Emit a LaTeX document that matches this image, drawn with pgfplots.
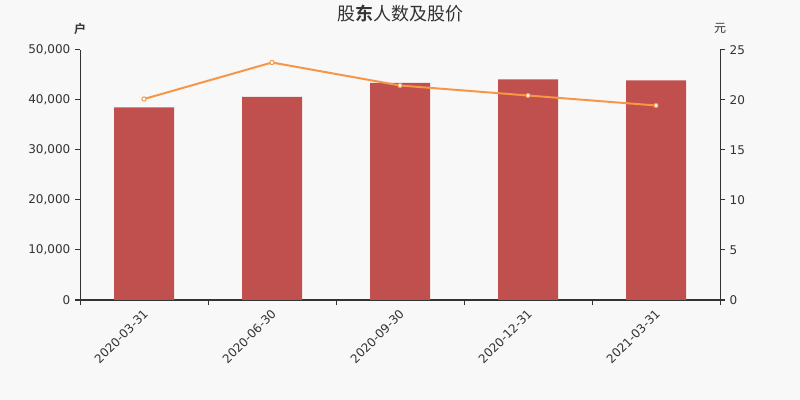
\documentclass[border=0pt]{standalone}
\usepackage{pgfplots}
\pgfplotsset{compat=1.18}
\usepackage{fontspec}
\setmainfont{DejaVu Sans}
\newfontfamily\cjk{Noto Sans CJK SC}[BoldFont={Noto Sans CJK SC Bold}]
\definecolor{bg}{HTML}{F8F8F8}
\definecolor{txt}{HTML}{333333}
\definecolor{barc}{HTML}{C0504D}
\definecolor{linec}{HTML}{F79646}
\begin{document}
\begin{tikzpicture}
\fill[bg] (0pt,0pt) rectangle (600pt,300pt);
\useasboundingbox (0pt,0pt) rectangle (600pt,300pt);
\node[font=\cjk\fontsize{13.5}{15}\selectfont, text=txt] at (300pt,289.5pt) {股{\bfseries 东}人数及股价};
\node[font=\cjk\bfseries\fontsize{9}{10}\selectfont, text=txt] at (60pt,278.5pt) {户};
\node[font=\cjk\fontsize{9}{10}\selectfont, text=txt] at (540pt,278.5pt) {元};
\pgfplotsset{
  base/.style={
    at={(60pt,75pt)}, anchor=south west,
    width=480pt, height=187.5pt, scale only axis,
    xmin=-0.5, xmax=4.5,
    axis line style={draw=txt, line width=0.75pt},
    tick style={draw=txt, line width=0.75pt},
    tick align=outside, major tick length=3.75pt,
    ticklabel style={font=\fontsize{9}{10}\selectfont, text=txt},
    /pgf/number format/assume math mode=true,
    scaled y ticks=false,
  }
}
\begin{axis}[base,
  axis y line*=left, axis x line*=bottom,
  ymin=0, ymax=50000,
  ytick={0,10000,20000,30000,40000,50000},
  yticklabel style={/pgf/number format/1000 sep={,}},
  xtick={-0.5,0.5,1.5,2.5,3.5,4.5},
  xticklabels={2020-03-31,2020-06-30,2020-09-30,2020-12-31,2021-03-31},
  x tick label as interval,
  xticklabel style={rotate=45, anchor=north east, inner sep=1pt, xshift=-1.5pt},
]
\addplot[ybar, bar width=45pt, fill=barc, draw=none] coordinates {
  (0,38500) (1,40600) (2,43400) (3,44100) (4,43900)
};
\end{axis}
\begin{axis}[base,
  axis y line*=right, axis x line=none,
  ymin=0, ymax=25,
  ytick={0,5,10,15,20,25},
]
\addplot[linec, line width=1.5pt, mark=*, mark size=1.6pt,
  mark options={fill=white, draw=linec, line width=0.75pt}] coordinates {
  (0,20.1) (1,23.75) (2,21.45) (3,20.45) (4,19.45)
};
\end{axis}
\end{tikzpicture}
\end{document}
